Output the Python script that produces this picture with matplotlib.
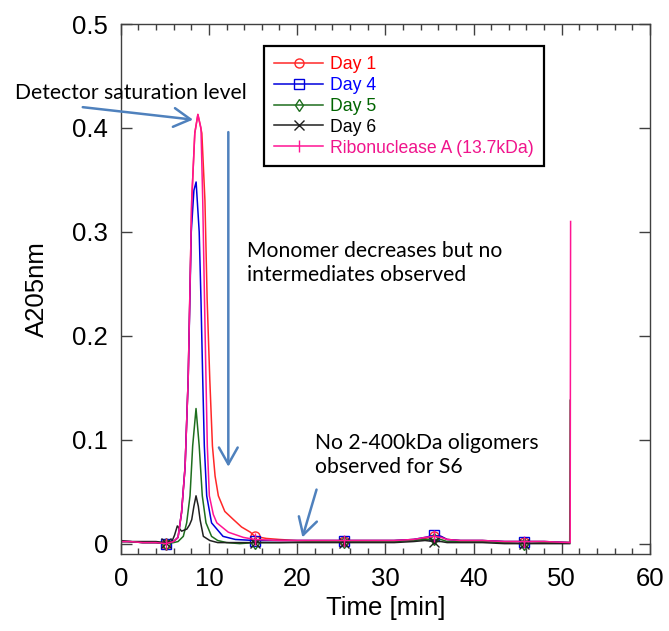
import numpy as np
import matplotlib
matplotlib.use("Agg")
import matplotlib.pyplot as plt

# ---------------- data ----------------
marker_times = [5.1, 15.2, 25.3, 35.5, 45.7]

day1_t = [0.0, 1.0, 2.5, 4.0, 5.1, 6.0, 6.5, 6.9, 7.3, 7.65, 8.05, 8.4, 8.75, 9.2, 9.55, 9.8,
          10.1, 10.4, 10.7, 11.07, 11.8, 12.8, 13.7, 14.7, 15.2, 16.5, 18.0, 20.0, 22.0, 25.3,
          28.0, 31.0, 33.2, 34.5, 35.5, 36.3, 37.0, 38.5, 41.0, 43.5, 45.7, 48.0, 50.9]
day1_v = [0.002, 0.002, 0.001, 0.001, 0.000, 0.002, 0.006, 0.030, 0.074, 0.158, 0.330, 0.395,
          0.413, 0.395, 0.330, 0.235, 0.158, 0.094, 0.065, 0.046, 0.031, 0.023, 0.016, 0.011,
          0.007, 0.005, 0.004, 0.003, 0.003, 0.003, 0.003, 0.003, 0.004, 0.005, 0.007, 0.007,
          0.004, 0.003, 0.003, 0.002, 0.002, 0.002, 0.001]

day4_t = [0.0, 1.0, 2.5, 4.0, 5.1, 6.0, 6.5, 6.9, 7.3, 7.65, 8.0, 8.3, 8.55, 8.9, 9.1, 9.3,
          9.48, 9.75, 10.3, 11.6, 13.0, 15.2, 18.0, 22.0, 25.3, 28.0, 31.0, 33.2, 34.5, 35.5,
          36.3, 37.0, 38.5, 41.0, 43.5, 45.7, 48.0, 50.9]
day4_v = [0.002, 0.002, 0.001, 0.001, 0.000, 0.002, 0.006, 0.030, 0.074, 0.158, 0.300, 0.340,
          0.348, 0.300, 0.235, 0.158, 0.094, 0.046, 0.020, 0.007, 0.004, 0.003, 0.003, 0.003,
          0.003, 0.003, 0.003, 0.004, 0.006, 0.008, 0.007, 0.004, 0.003, 0.003, 0.002, 0.002,
          0.002, 0.001]

day5_t = [0.0, 1.0, 2.5, 4.0, 5.1, 6.0, 6.5, 7.1, 7.48, 7.86, 8.16, 8.54, 8.9, 9.25, 9.67,
          10.3, 11.0, 12.0, 13.5, 15.2, 18.0, 22.0, 25.3, 28.0, 31.0, 33.2, 34.5, 35.5, 36.3,
          37.0, 38.5, 41.0, 43.5, 45.7, 48.0, 50.9, 50.95]
day5_v = [0.002, 0.002, 0.001, 0.001, 0.000, 0.001, 0.002, 0.007, 0.020, 0.046, 0.094, 0.130,
          0.094, 0.046, 0.020, 0.007, 0.003, 0.001, 0.000, 0.001, 0.001, 0.002, 0.002, 0.002,
          0.002, 0.003, 0.004, 0.004, 0.004, 0.002, 0.002, 0.002, 0.001, 0.000, 0.001, 0.001,
          0.138]

day6_t = [0.0, 1.0, 2.5, 4.0, 5.1, 5.8, 6.1, 6.42, 6.9, 7.5, 7.8, 8.05, 8.3, 8.54, 8.8, 9.0,
          9.37, 10.1, 11.0, 13.0, 15.2, 18.0, 22.0, 25.3, 28.0, 31.0, 33.2, 34.5, 35.5, 36.3,
          37.0, 38.5, 41.0, 43.5, 45.7, 48.0, 50.9]
day6_v = [0.003, 0.002, 0.002, 0.002, 0.001, 0.002, 0.008, 0.017, 0.012, 0.014, 0.018, 0.023,
          0.036, 0.046, 0.036, 0.023, 0.007, 0.003, 0.001, 0.001, 0.001, 0.001, 0.001, 0.001,
          0.001, 0.001, 0.002, 0.003, 0.002, 0.002, 0.001, 0.001, 0.001, 0.000, 0.000, 0.000,
          0.000]

ribo_t = [0.0, 1.0, 2.5, 4.0, 5.1, 6.0, 6.5, 6.9, 7.3, 7.65, 8.05, 8.4, 8.75, 9.1, 9.3, 9.5,
          9.67, 9.82, 10.05, 10.5, 10.9, 12.2, 13.9, 15.2, 18.0, 22.0, 25.3, 28.0, 31.0, 33.2,
          34.5, 35.5, 36.3, 37.0, 38.5, 41.0, 43.5, 45.7, 48.0, 50.95, 51.0]
ribo_v = [0.002, 0.002, 0.001, 0.001, 0.000, 0.002, 0.006, 0.030, 0.074, 0.158, 0.330, 0.395,
          0.413, 0.400, 0.330, 0.235, 0.158, 0.094, 0.046, 0.028, 0.020, 0.011, 0.006, 0.004,
          0.003, 0.003, 0.003, 0.003, 0.003, 0.004, 0.006, 0.007, 0.006, 0.004, 0.003, 0.003,
          0.002, 0.002, 0.002, 0.001, 0.310]

labels = ["Day 1", "Day 4", "Day 5", "Day 6", "Ribonuclease A (13.7kDa)"]
xticks = [0, 10, 20, 30, 40, 50, 60]
yticks = [0, 0.1, 0.2, 0.3, 0.4, 0.5]

# ---------------- figure ----------------
plt.rcParams['font.family'] = ['Liberation Sans', 'DejaVu Sans']
fig = plt.figure(figsize=(6.69, 6.31), dpi=100)
ax = fig.add_axes([0.1804, 0.1220, 0.7912, 0.8399])

def marks(ts):
    return [i for i, t in enumerate(ts) if t in marker_times]

series = [
    (day1_t, day1_v, '#FF2828', 'o', 6.5, '#FF0000'),
    (day4_t, day4_v, '#0000DD', 's', 7.5, '#0000FF'),
    (day5_t, day5_v, '#1E6E1E', 'd', 6.5, '#006400'),
    (day6_t, day6_v, '#202020', 'x', 6.5, '#000000'),
    (ribo_t, ribo_v, '#FF1493', '|', 8.0, '#F0148C'),
]
text_colors = []
for (t, v, c, m, ms, tc), lab in zip(series, labels):
    ax.plot(t, v, color=c, lw=1.1, marker=m, ms=ms, mfc='none', mec=c, mew=1.0,
            markevery=marks(t), label=lab)
    text_colors.append(tc)

ax.set_xlim(0, 60)
ax.set_ylim(-0.01, 0.5)
ax.set_xticks(xticks)
ax.set_xticks(np.arange(0, 61, 2), minor=True)
ax.set_yticks(yticks)
ax.set_yticklabels(['0', '0.1', '0.2', '0.3', '0.4', '0.5'])
ax.tick_params(which='both', direction='in', top=True, right=True, labelsize=18.5,
               colors='#404040', labelcolor='black', pad=9)
ax.tick_params(which='major', length=8, width=1)
ax.tick_params(which='minor', length=4.5, width=1)
for s in ax.spines.values():
    s.set_color('#404040')
    s.set_linewidth(1.0)

ax.set_xlabel('Time [min]', fontsize=18.5, labelpad=4)
ax.set_ylabel('A205nm', fontsize=18.5, labelpad=17)

leg = ax.legend(loc='upper left', bbox_to_anchor=(0.271, 0.958), fontsize=12.7,
                frameon=True, fancybox=False, framealpha=1, edgecolor='black',
                handlelength=2.8, handletextpad=0.4, labelspacing=0.22,
                borderpad=0.55, numpoints=1, borderaxespad=0)
leg.get_frame().set_linewidth(1.6)
for txt, tc in zip(leg.get_texts(), text_colors):
    txt.set_color(tc)

# ---------------- annotations ----------------
acol = '#4F81BD'
afont = dict(family=['Lato', 'DejaVu Sans'], fontsize=15.2, color='black')
arrowprops = dict(arrowstyle='->,head_length=0.8,head_width=0.45', color=acol, lw=1.8,
                  mutation_scale=15, shrinkA=0, shrinkB=0)

fig.text(15 / 669, 1 - 93 / 631, 'Detector saturation level', va='center', ha='left', **afont)
fig.text(247 / 669, 1 - 263 / 631, 'Monomer decreases but no\nintermediates observed',
         va='center', ha='left', linespacing=1.3, **afont)
fig.text(315 / 669, 1 - 455 / 631, 'No 2-400kDa oligomers\nobserved for S6',
         va='center', ha='left', linespacing=1.3, **afont)

ax.annotate('', xy=(8.2, 0.408), xytext=(-4.3, 0.420), arrowprops=arrowprops,
            annotation_clip=False)
ax.annotate('', xy=(12.2, 0.074), xytext=(12.2, 0.396), arrowprops=arrowprops)
ax.annotate('', xy=(20.6, 0.006), xytext=(22.2, 0.052), arrowprops=arrowprops)

fig.savefig('out.png', dpi=100)
